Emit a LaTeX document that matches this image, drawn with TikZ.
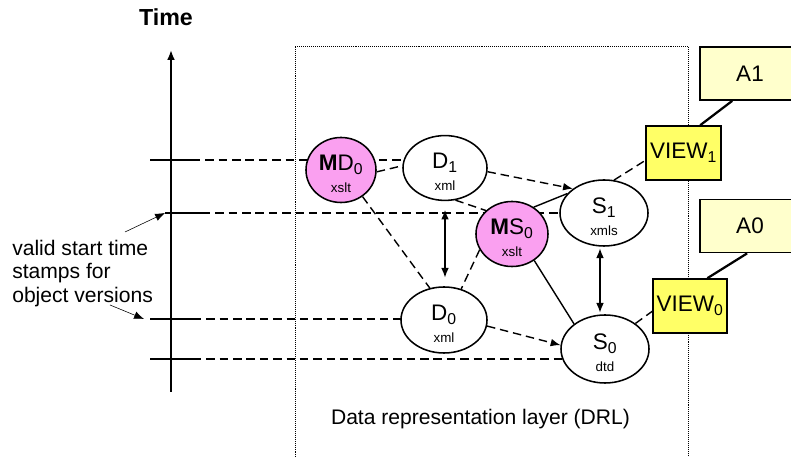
\documentclass[tikz,border=0pt]{standalone}
\usepackage{fontspec}
\setmainfont{Liberation Sans}
\usepackage{tikz}
\usetikzlibrary{arrows.meta,shapes,positioning,backgrounds}
\usepackage{xcolor}

\definecolor{objpink}{RGB}{250,160,240}
\definecolor{viewyellow}{RGB}{255,255,102}
\definecolor{appyellow}{RGB}{255,255,204}

\tikzset{
  obj/.style={ellipse, draw, line width=1.1pt, fill=white, inner sep=0pt,
              align=center, font=\fontsize{16}{16}\selectfont},
  mobj/.style={obj, fill=objpink},
  viewbox/.style={draw, line width=1.1pt, fill=viewyellow, inner sep=0pt,
                  minimum width=1.87cm, minimum height=1.35cm,
                  font=\fontsize{16}{16}\selectfont},
  appbox/.style={draw, line width=1.1pt, fill=appyellow, inner sep=0pt,
                 minimum width=2.5cm, minimum height=1.33cm,
                 font=\fontsize{16}{16}\selectfont},
  dsh/.style={dash pattern=on 6pt off 3.5pt, line width=1pt},
  tickline/.style={line width=1.4pt},
}
\newcommand{\objtext}[2]{\rule{0pt}{17pt}#1\\[-0.4pt]{\fontsize{9.5}{9.5}\selectfont #2}}

\begin{document}
\begin{tikzpicture}[x=0.025cm, y=-0.025cm, >={Latex[length=7pt,width=5.5pt]}]
  \clip (0,0) rectangle (791,457);

  % ---- DRL frame ----
  \draw[densely dotted, thin] (295,457) -- (295,46) -- (688,46) -- (688,457);
  \node[font=\fontsize{15}{15}\selectfont, anchor=base] (drl) at (480.5,425) {Data representation layer (DRL)};

  % ---- Left: time axis ----
  \coordinate (axbot) at (171,392);
  \coordinate (axtop) at (171,50);
  \draw[->, line width=1.3pt] (axbot) -- (axtop);
  \node[font=\bfseries\fontsize{16.5}{16.5}\selectfont, anchor=base] (time) at (166,25.7) {Time};

  % ---- Objects ----
  \node[mobj, minimum width=1.75cm, minimum height=1.45cm] (md0) at (341,170) {\objtext{\textbf{M}D\textsubscript{0}}{xslt}};
  \node[obj,  minimum width=2.10cm, minimum height=1.55cm] (d1)  at (445,168) {\objtext{D\textsubscript{1}}{xml}};
  \node[mobj, minimum width=1.80cm, minimum height=1.55cm] (ms0) at (512,234) {\objtext{\textbf{M}S\textsubscript{0}}{xslt}};
  \node[obj,  minimum width=2.20cm, minimum height=1.65cm] (s1)  at (604,213) {\objtext{S\textsubscript{1}}{xmls}};
  \node[obj,  minimum width=2.15cm, minimum height=1.65cm] (d0)  at (444,320) {\objtext{D\textsubscript{0}}{xml}};
  \node[obj,  minimum width=2.20cm, minimum height=1.70cm] (s0)  at (605,349) {\objtext{S\textsubscript{0}}{dtd}};

  % ---- Views and applications ----
  \node[viewbox] (view1) at (683.5,153) {VIEW\textsubscript{1}};
  \node[viewbox, minimum width=1.85cm] (view0) at (690,306) {VIEW\textsubscript{0}};
  \node[appbox] (a1) at (750,73.5) {A1};
  \node[appbox] (a0) at (750,226) {A0};
  \draw[line width=1.6pt] (a1.237) -- (view1.59);
  \draw[line width=1.6pt] (a0.264) -- (view0.58);
  \draw[dsh] (s1.73) -- (view1.191);
  \draw[dsh] (s0.40) -- (view0.188);

  % ---- Time stamps (behind the objects) ----
  \coordinate (tk1) at (150,160); \coordinate (tk1e) at (192,160);
  \coordinate (tk2) at (165,213); \coordinate (tk2e) at (202,213);
  \coordinate (tk3) at (150,319); \coordinate (tk3e) at (193,319);
  \coordinate (tk4) at (150,359); \coordinate (tk4e) at (193,359);
  \foreach \a/\o in {tk1/d1, tk2/s1, tk3/d0, tk4/s0} {
    \draw[tickline] (\a) -- (\a e);
    \begin{pgfonlayer}{background}
      \draw[dsh] (\a e) -- (\a e -| \o);
    \end{pgfonlayer}
  }

  % ---- Note on the time stamps ----
  \node[anchor=north west, inner sep=0pt, align=left,
        font=\fontsize{15}{16.65}\selectfont] (note) at (12,240)
        {valid start time\\stamps for\\object versions};
  \coordinate (nt1) at (125,232);
  \coordinate (nt2) at (110,305);
  \draw[->, thin] (nt1) -- (tk2);
  \draw[->, thin] (nt2) -- ([xshift=-0.15cm]tk3);

  % ---- Dependencies ----
  \draw[dsh] (md0.-3) -- (d1.177);
  \draw[dsh] (md0.-51) -- (d0.114);
  \draw[dsh] (d1.-72) -- (ms0.138);
  \draw[dsh] (ms0.206) -- (d0.61);
  \draw[dsh, ->] (d1.-5) -- (s1.142);
  \draw[dsh, ->] (d0.-8) -- (s0.175);
  \draw[line width=1pt] (ms0.51) -- (s1.152);
  \draw[line width=1pt] (ms0.-50) -- (s0.141);
  \draw[<->, line width=1.1pt, shorten <=6pt, shorten >=6pt] (d1.south) -- (d1.south |- d0.north);
  \coordinate (s1b) at ([xshift=-0.1cm]s1.south);
  \draw[<->, line width=1.1pt, shorten <=1pt, shorten >=1pt] (s1b) -- (s1b |- s0.north);
\end{tikzpicture}
\end{document}
